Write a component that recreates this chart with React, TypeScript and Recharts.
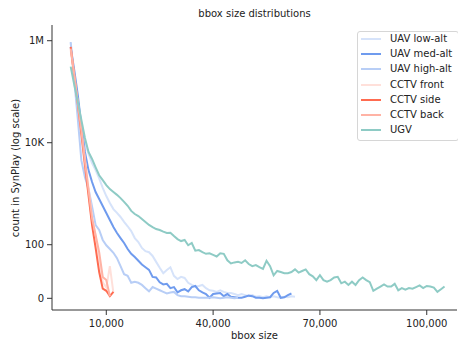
import React from 'react';
import { LineChart, Line, XAxis, YAxis } from 'recharts';

// bin width of bbox size (pixels^2)
const binStep = 1000;

// counts per bin, starting at bbox size 0
const uavLow = [
  900000, 186000, 63000, 22000, 10300, 6000, 4000, 2900, 2000, 1300,
  900, 660, 500, 420, 350, 280, 230, 185, 135, 113,
  94, 88, 86, 79, 68, 57, 47, 53, 58, 42,
  36, 40, 38, 29, 25, 22, 23, 25, 19, 15,
  14, 12, 15, 12, 10, 10, 8, 6, 8, 6,
  4, 6, 3, 4, 2, 4, 2, 4, 2, 1,
  3, 2, 4, 3,
];
const uavMed = [
  746000, 266000, 86000, 22000, 6600, 2900, 1700, 1080, 790, 575,
  420, 305, 222, 170, 135, 108, 92, 83, 77, 70,
  63, 58, 53, 40, 39, 30, 26, 27, 19, 21,
  11, 15, 17, 13, 21, 23, 15, 11, 8, 1,
  8, 9, 10, 4, 8, 3, 2, 1, 1, 3,
  5, 4, 1, 1, 0, 1, 2, 10, 14, 1,
  2, 6, 9,
];
const uavHigh = [
  944000, 169000, 29000, 4500, 2100, 1250, 560, 243, 195, 124,
  99, 92, 85, 75, 60, 45, 42, 29, 31, 29,
  25, 19, 13, 21, 18, 15, 12, 9, 11, 12,
  6, 4, 4, 3, 2, 2, 1, 1, 1, 1,
  2, 1, 0, 1, 2, 1, 0, 1,
];
const cctvFront = [650000, 200000, 60000, 17000, 4800, 1300, 350, 150, 75, 30, 20, 60, 10];
const cctvSide = [760000, 203000, 57000, 14800, 3600, 940, 243, 94, 49, 18, 14, 4, 12];
const cctvBack = [700000, 215000, 62000, 17500, 4400, 1200, 330, 155, 86, 40, 34, 4];
const ugv = [
  310000, 137000, 62800, 27800, 12400, 6600, 4800, 3300, 2300, 1850,
  1480, 1230, 1080, 950, 820, 690, 580, 460, 400, 365,
  320, 280, 244, 222, 203, 194, 180, 170, 172, 148,
  129, 118, 124, 99, 108, 89, 90, 86, 83, 84,
  81, 78, 84, 83, 71, 65, 67, 68, 66, 71,
  64, 60, 62, 58, 55, 70, 60, 43, 51, 49,
  47, 47, 49, 54, 48, 51, 54, 45, 41, 34,
  43, 34, 31, 34, 39, 40, 28, 31, 25, 31,
  25, 34, 39, 34, 30, 14, 18, 22, 26, 22,
  22, 27, 15, 19, 16, 19, 18, 21, 24, 19,
  23, 22, 20, 12, 17, 22,
];

const seriesNames = ['UAV low-alt', 'UAV med-alt', 'UAV high-alt', 'CCTV front', 'CCTV side', 'CCTV back', 'UGV'];
const seriesKeys = ['uavLow', 'uavMed', 'uavHigh', 'cctvFront', 'cctvSide', 'cctvBack', 'ugv'];
const seriesValues = [uavLow, uavMed, uavHigh, cctvFront, cctvSide, cctvBack, ugv];
const seriesColors = ['#d6e3fa', '#6f9bee', '#b8cef6', '#ffe0da', '#ff6b50', '#ffb3a5', '#8ecbc5'];

const yTickCounts = [0, 100, 10000, 1000000];
const yTickLabels = ['0', '100', '10K', '1M'];
const xTicks = [10000, 40000, 70000, 100000];
const xTickLabels = ['10,000', '40,000', '70,000', '100,000'];

// symmetric-log transform (linear below 100)
const LIN = 1.051;
const sym = (v: number) => (v <= 100 ? (LIN * v) / 100 : LIN + Math.log10(v / 100));

const yTicks = yTickCounts.map(sym);

const maxLen = Math.max(...seriesValues.map((s) => s.length));
const table = Array.from({ length: maxLen }, (_, i) => {
  const row: Record<string, number> = { x: i * binStep };
  seriesKeys.forEach((k, j) => {
    if (i < seriesValues[j].length) row[k] = sym(seriesValues[j][i]);
  });
  return row;
});

const FONT = '"DejaVu Sans", Verdana, sans-serif';
const AX = '#333';

export default function App() {
  return (
    <div
      style={{
        position: 'absolute',
        left: 0,
        top: 0,
        width: 458,
        height: 343,
        background: '#fff',
        fontFamily: FONT,
        color: '#222',
        overflow: 'hidden',
      }}
    >
      <LineChart width={458} height={343} data={table} margin={{ top: 25, right: 1, bottom: 0, left: 0 }}>
        <XAxis
          type="number"
          dataKey="x"
          domain={[-5250, 108500]}
          ticks={xTicks}
          interval={0}
          allowDataOverflow
          tickFormatter={(v: number) => xTickLabels[xTicks.indexOf(v)] ?? ''}
          height={33}
          tickSize={5}
          tickMargin={5}
          stroke={AX}
          tick={{ fill: '#222', fontSize: 10, fontFamily: FONT }}
        />
        <YAxis
          type="number"
          domain={[-0.229, 5.359]}
          ticks={yTicks}
          interval={0}
          allowDataOverflow
          tickFormatter={(v: number) => {
            const i = yTicks.findIndex((t) => Math.abs(t - v) < 1e-6);
            return i >= 0 ? yTickLabels[i] : '';
          }}
          width={52}
          tickSize={5}
          tickMargin={3}
          stroke={AX}
          tick={{ fill: '#222', fontSize: 10, fontFamily: FONT }}
        />
        {seriesKeys.map((k, j) => (
          <Line
            key={k}
            dataKey={k}
            name={seriesNames[j]}
            type="linear"
            stroke={seriesColors[j]}
            strokeWidth={2}
            dot={false}
            activeDot={false}
            isAnimationActive={false}
            connectNulls={false}
          />
        ))}
      </LineChart>

      {/* title */}
      <div
        style={{
          position: 'absolute',
          left: 52,
          width: 405,
          top: 8,
          lineHeight: '12px',
          fontSize: 10,
          textAlign: 'center',
        }}
      >
        bbox size distributions
      </div>

      {/* x label */}
      <div
        style={{
          position: 'absolute',
          left: 52,
          width: 405,
          top: 330,
          lineHeight: '12px',
          fontSize: 10,
          textAlign: 'center',
        }}
      >
        bbox size
      </div>

      {/* y label */}
      <div
        style={{
          position: 'absolute',
          left: 16 - 100,
          top: 168 - 6,
          width: 200,
          lineHeight: '12px',
          fontSize: 10,
          textAlign: 'center',
          transform: 'rotate(-90deg)',
          transformOrigin: '50% 50%',
        }}
      >
        count in SynPlay (log scale)
      </div>

      {/* legend */}
      <div
        style={{
          position: 'absolute',
          left: 357,
          top: 31,
          width: 100,
          height: 108,
          border: '1px solid #d6d6d6',
          borderRadius: 3,
          background: 'rgba(255,255,255,0.85)',
        }}
      />
      {seriesNames.map((n, j) => {
        const cy = 39 + j * 15.17;
        return (
          <React.Fragment key={n}>
            <div
              style={{
                position: 'absolute',
                left: 361,
                top: cy - 1,
                width: 20,
                height: 2,
                background: seriesColors[j],
              }}
            />
            <div
              style={{
                position: 'absolute',
                left: 390,
                top: cy - 6,
                lineHeight: '12px',
                fontSize: 10,
                whiteSpace: 'nowrap',
              }}
            >
              {n}
            </div>
          </React.Fragment>
        );
      })}
    </div>
  );
}
